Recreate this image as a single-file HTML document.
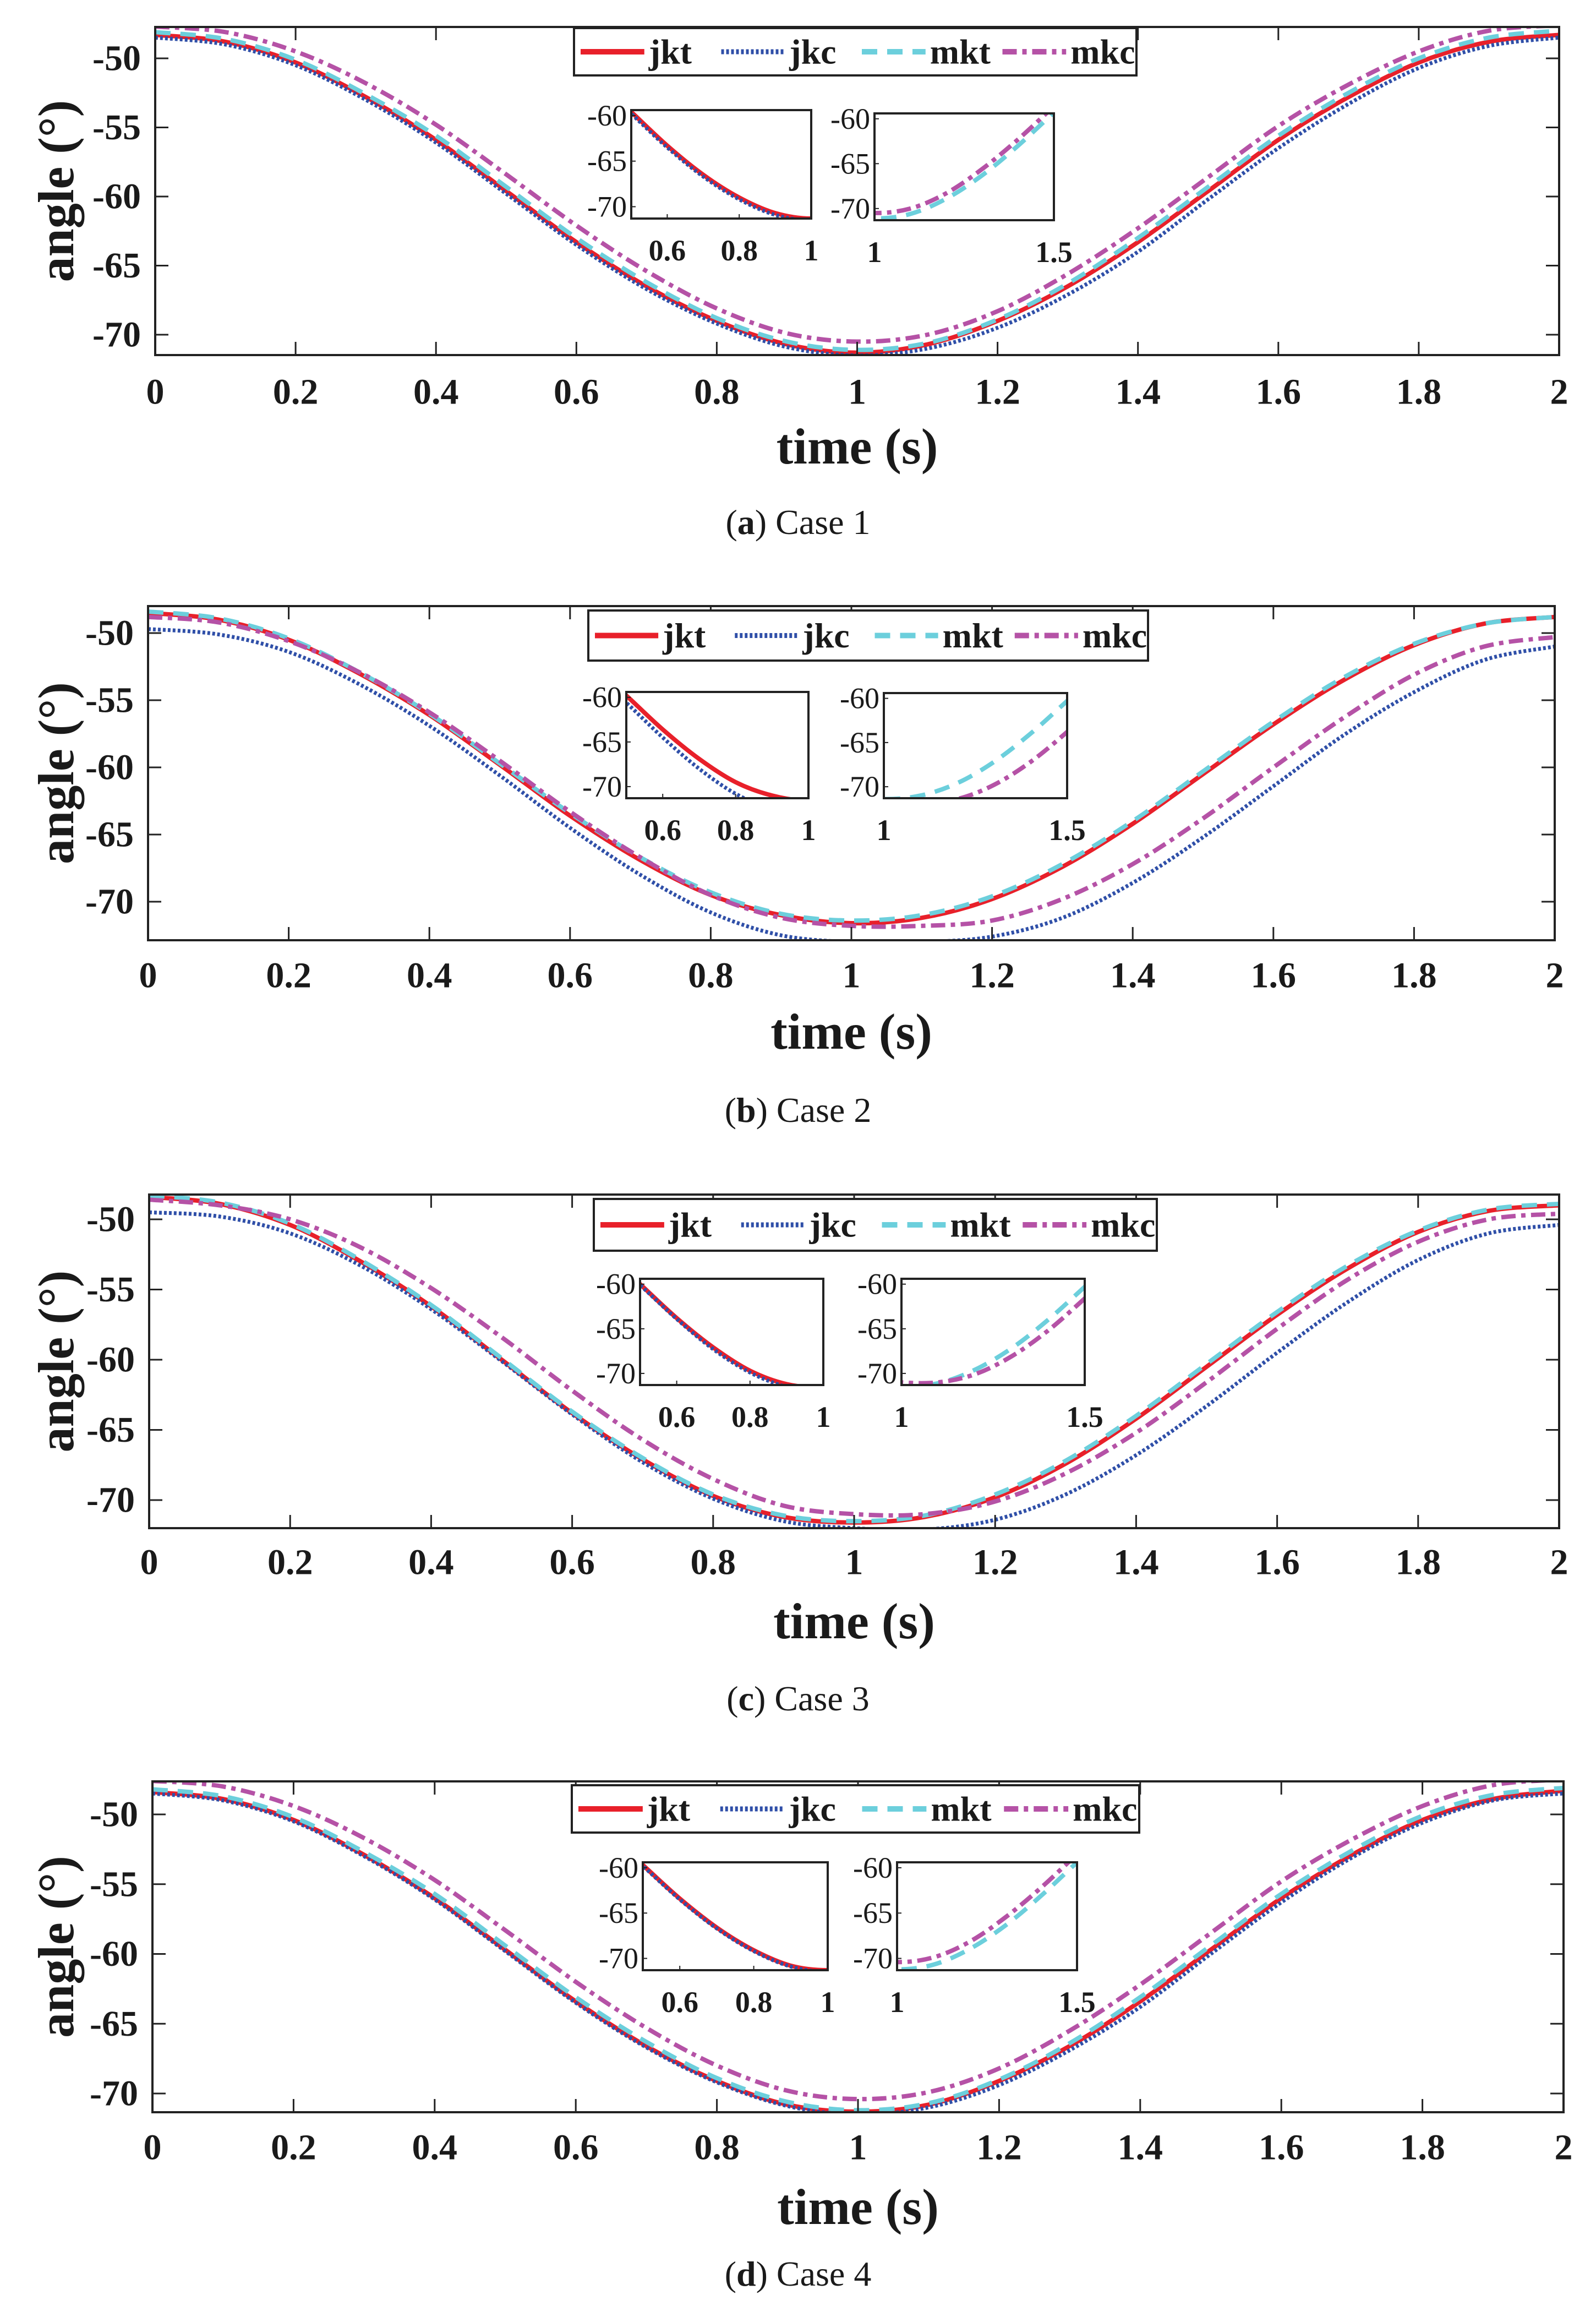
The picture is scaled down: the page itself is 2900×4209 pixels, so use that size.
<!DOCTYPE html>
<html><head><meta charset="utf-8"><style>
html,body{margin:0;padding:0;background:#fff;}
svg{display:block;}
text{font-family:"Liberation Serif",serif;fill:#1a1a1a;}
</style></head><body>
<svg id="fig" width="2900" height="4209" viewBox="0 0 2900 4209" xmlns="http://www.w3.org/2000/svg"></svg>
<script>
// ---- data (time samples every 0.1 s) ----
const times = [0,0.1,0.2,0.3,0.4,0.5,0.6,0.7,0.8,0.9,1.0,1.1,1.2,1.3,1.4,1.5,1.6,1.7,1.8,1.9,2.0];
const yTicks = [-50,-55,-60,-65,-70];
const xTicks = [0,0.2,0.4,0.6,0.8,1,1.2,1.4,1.6,1.8,2];
const xTickLabels = ["0","0.2","0.4","0.6","0.8","1","1.2","1.4","1.6","1.8","2"];
const seriesNames = ["jkt","jkc","mkt","mkc"];
const captions = ["a","b","c","d"];

const case1_jkt = [-48.3,-48.8,-50.3,-52.8,-55.9,-59.6,-63.3,-66.5,-69.0,-70.7,-71.3,-70.7,-69.0,-66.5,-63.3,-59.6,-55.9,-52.8,-50.3,-48.8,-48.3];
const case1_jkc = [-48.5,-49.0,-50.5,-53.0,-56.1,-59.8,-63.5,-66.7,-69.2,-70.9,-71.5,-71.0,-69.5,-67.1,-64.0,-60.2,-56.5,-53.3,-50.7,-49.1,-48.5];
const case1_mkt = [-48.1,-48.6,-50.1,-52.6,-55.6,-59.3,-63.0,-66.2,-68.8,-70.5,-71.1,-70.6,-68.9,-66.3,-63.0,-59.3,-55.6,-52.5,-50.0,-48.5,-48.0];
const case1_mkc = [-47.7,-48.1,-49.5,-51.8,-54.8,-58.4,-62.1,-65.4,-68.1,-69.9,-70.5,-70.0,-68.3,-65.6,-62.3,-58.6,-54.9,-51.9,-49.5,-48.0,-47.6];

const case2_jkt = [-48.5,-49.0,-50.5,-53.0,-56.1,-59.8,-63.6,-66.9,-69.5,-71.0,-71.6,-71.2,-69.8,-67.4,-64.2,-60.5,-56.8,-53.5,-50.9,-49.3,-48.8];
const case2_jkc = [-49.7,-50.1,-51.4,-53.8,-56.9,-60.6,-64.5,-68.0,-70.8,-72.5,-73.0,-73.0,-72.6,-71.2,-68.6,-65.2,-61.4,-57.6,-54.4,-52.0,-51.0];
const case2_mkt = [-48.4,-48.9,-50.4,-52.9,-56.0,-59.7,-63.4,-66.7,-69.3,-70.9,-71.4,-71.0,-69.6,-67.2,-64.0,-60.3,-56.6,-53.3,-50.8,-49.3,-48.8];
const case2_mkc = [-48.8,-49.2,-50.6,-52.9,-55.9,-59.5,-63.3,-66.7,-69.5,-71.2,-71.8,-71.8,-71.4,-69.8,-67.2,-63.8,-60.0,-56.3,-53.1,-51.0,-50.3];

const case3_jkt = [-48.4,-48.9,-50.4,-53.0,-56.2,-60.0,-63.8,-67.1,-69.7,-71.2,-71.6,-71.2,-69.8,-67.4,-64.2,-60.5,-56.8,-53.5,-50.9,-49.4,-49.0];
const case3_jkc = [-49.5,-49.8,-51.0,-53.3,-56.4,-60.1,-63.9,-67.3,-69.9,-71.5,-72.0,-72.1,-71.4,-69.6,-66.8,-63.3,-59.5,-55.9,-52.9,-51.0,-50.4];
const case3_mkt = [-48.3,-48.8,-50.3,-52.9,-56.1,-59.9,-63.7,-67.0,-69.6,-71.1,-71.5,-71.1,-69.6,-67.2,-64.0,-60.3,-56.6,-53.3,-50.8,-49.3,-48.9];
const case3_mkc = [-48.6,-49.0,-50.0,-52.0,-54.9,-58.4,-62.2,-65.7,-68.5,-70.4,-71.0,-71.0,-70.1,-68.1,-65.2,-61.6,-57.8,-54.3,-51.6,-50.0,-49.6];

const case4_jkt = [-48.4,-48.9,-50.4,-52.9,-56.0,-59.7,-63.4,-66.6,-69.1,-70.8,-71.3,-70.8,-69.1,-66.6,-63.4,-59.7,-56.0,-52.9,-50.4,-48.9,-48.3];
const case4_jkc = [-48.5,-49.0,-50.5,-53.0,-56.1,-59.8,-63.5,-66.7,-69.2,-70.9,-71.5,-71.0,-69.4,-66.9,-63.8,-60.0,-56.3,-53.1,-50.6,-49.0,-48.5];
const case4_mkt = [-48.2,-48.7,-50.2,-52.7,-55.7,-59.4,-63.1,-66.3,-68.9,-70.6,-71.2,-70.7,-69.0,-66.4,-63.1,-59.4,-55.7,-52.6,-50.1,-48.6,-48.1];
const case4_mkc = [-47.6,-48.0,-49.4,-51.7,-54.7,-58.3,-62.0,-65.3,-68.0,-69.8,-70.4,-69.9,-68.2,-65.5,-62.2,-58.5,-54.8,-51.8,-49.4,-47.9,-47.5];

const allCases = [
  [case1_jkt,case1_jkc,case1_mkt,case1_mkc],
  [case2_jkt,case2_jkc,case2_mkt,case2_mkc],
  [case3_jkt,case3_jkc,case3_mkt,case3_mkc],
  [case4_jkt,case4_jkc,case4_mkt,case4_mkc]
];

// ---- layout (pixels) ----
const layouts = [
 {L:282,R:2833,T:49,B:645,p50:106,p70:608, leg:[1043,51,2065,137], in1:[1147,200,1474,397], in2:[1589,206,1915,400], xl:712, tl:811, cap:948},
 {L:269,R:2825,T:1101,B:1708,p50:1150,p70:1638, leg:[1069,1109,2086,1200], in1:[1138,1257,1469,1450], in2:[1606,1259,1939,1450], xl:1772, tl:1874, cap:2016},
 {L:271,R:2833,T:2170,B:2776,p50:2215,p70:2725, leg:[1079,2178,2102,2272], in1:[1163,2323,1496,2516], in2:[1638,2323,1971,2516], xl:2838, tl:2945, cap:3085},
 {L:277,R:2841,T:3236,B:3837,p50:3296,p70:3803, leg:[1039,3243,2070,3329], in1:[1168,3383,1504,3579], in2:[1630,3383,1957,3579], xl:3901, tl:4009, cap:4130}
];
const styles = [
 {c:"#e8202a", w:8, d:""},
 {c:"#2f4fa8", w:7, d:"5 4"},
 {c:"#6ccfdc", w:8, d:"28 18"},
 {c:"#b552a6", w:8, d:"26 10 8 10"}
];

const NS="http://www.w3.org/2000/svg";
const svg=document.getElementById('fig');
function mk(tag,attrs,parent){const e=document.createElementNS(NS,tag);for(const k in attrs)e.setAttribute(k,attrs[k]);(parent||svg).appendChild(e);return e;}
function txt(s,attrs,parent){const e=mk('text',attrs,parent);e.textContent=s;return e;}
function smoothPath(pts){
  let d="M"+pts[0][0].toFixed(1)+","+pts[0][1].toFixed(1);
  for(let i=0;i<pts.length-1;i++){
    const p0=pts[Math.max(0,i-1)],p1=pts[i],p2=pts[i+1],p3=pts[Math.min(pts.length-1,i+2)];
    const c1=[p1[0]+(p2[0]-p0[0])/6,p1[1]+(p2[1]-p0[1])/6];
    const c2=[p2[0]-(p3[0]-p1[0])/6,p2[1]-(p3[1]-p1[1])/6];
    d+="C"+c1[0].toFixed(1)+","+c1[1].toFixed(1)+" "+c2[0].toFixed(1)+","+c2[1].toFixed(1)+" "+p2[0].toFixed(1)+","+p2[1].toFixed(1);
  }
  return d;
}

layouts.forEach((Lo,pi)=>{
  const data=allCases[pi];
  const g=mk('g',{});
  
  
  const ppd=(Lo.p70-Lo.p50)/20;
  const ymax=-50+(Lo.p50-Lo.T)/ppd, ymin=-70-(Lo.B-Lo.p70)/ppd;
  const xs=t=>Lo.L+(t/2)*(Lo.R-Lo.L);
  const ys=v=>Lo.T+(ymax-v)/(ymax-ymin)*(Lo.B-Lo.T);
  const cid='clip'+pi;
  const cp=mk('clipPath',{id:cid},g); mk('rect',{x:Lo.L,y:Lo.T,width:Lo.R-Lo.L,height:Lo.B-Lo.T},cp);
  data.forEach((arr,si)=>{
    const pts=arr.map((v,i)=>[xs(times[i]),ys(v)]);
    const p=mk('path',{d:smoothPath(pts),fill:'none',stroke:styles[si].c,'stroke-width':styles[si].w,'stroke-dasharray':styles[si].d,'clip-path':'url(#'+cid+')'},g);
    
    
  });
  const fr=mk('rect',{x:Lo.L,y:Lo.T,width:Lo.R-Lo.L,height:Lo.B-Lo.T,fill:'none',stroke:'#222','stroke-width':4},g);
   
  xTicks.forEach((t,i)=>{
    const x=xs(t);
    mk('line',{x1:x,y1:Lo.B,x2:x,y2:Lo.B-24,stroke:'#222','stroke-width':3},g);
    mk('line',{x1:x,y1:Lo.T,x2:x,y2:Lo.T+24,stroke:'#222','stroke-width':3},g);
    const tl=txt(xTickLabels[i],{x:x,y:Lo.xl,'text-anchor':'middle','dominant-baseline':'central','font-size':66,'font-weight':'bold'},g);
     
  });
  yTicks.forEach(v=>{
    const y=ys(v);
    mk('line',{x1:Lo.L,y1:y,x2:Lo.L+24,y2:y,stroke:'#222','stroke-width':3},g);
    mk('line',{x1:Lo.R,y1:y,x2:Lo.R-24,y2:y,stroke:'#222','stroke-width':3},g);
    const tl=txt(String(v),{x:Lo.L-26,y:y,'text-anchor':'end','dominant-baseline':'central','font-size':66,'font-weight':'bold'},g);
     
  });
  const xt=txt('time (s)',{x:(Lo.L+Lo.R)/2,y:Lo.tl,'text-anchor':'middle','dominant-baseline':'central','font-size':92,'font-weight':'bold'},g);
   
  const cy=(Lo.T+Lo.B)/2;
  const yt=txt('angle (°)',{x:102,y:cy,'text-anchor':'middle','dominant-baseline':'central','font-size':92,'font-weight':'bold',transform:'rotate(-90 102 '+cy+')'},g);
   
  const cap=mk('text',{x:1450,y:Lo.cap,'text-anchor':'middle','dominant-baseline':'central','font-size':64},g);
   
  const t1=mk('tspan',{},cap); t1.textContent='(';
  const t2=mk('tspan',{'font-weight':'bold'},cap); t2.textContent=captions[pi];
  const t3=mk('tspan',{},cap); t3.textContent=') Case '+(pi+1);
  const [lx0,ly0,lx1,ly1]=Lo.leg;
  const lg=mk('g',{},g);  
  mk('rect',{x:lx0,y:ly0,width:lx1-lx0,height:ly1-ly0,fill:'#fff',stroke:'#222','stroke-width':4},lg);
  const lw=(lx1-lx0)/4, lmy=(ly0+ly1)/2;
  seriesNames.forEach((n,si)=>{
    const ex=lx0+si*lw;
    const e=mk('g',{},lg);  
    mk('line',{x1:ex+12,y1:lmy,x2:ex+lw*0.5,y2:lmy,stroke:styles[si].c,'stroke-width':styles[si].w+2,'stroke-dasharray':styles[si].d},e);
    txt(n,{x:ex+lw*0.5+8,y:lmy,'dominant-baseline':'central','font-size':64,'font-weight':'bold'},e);
  });
  [[Lo.in1,0.5,1,[0,1],["0.6","0.8","1"],[0.6,0.8,1]],[Lo.in2,1,1.5,[2,3],["1","1.5"],[1,1.5]]].forEach((spec,ii)=>{
    const [r,x0,x1,sers,labs,labv]=spec;
    const ig=mk('g',{},g);  
    const iy0=-59.4, iy1=-71.3;
    const ixs=t=>r[0]+(t-x0)/(x1-x0)*(r[2]-r[0]);
    const iys=v=>r[1]+(iy0-v)/(iy0-iy1)*(r[3]-r[1]);
    const icid='iclip'+pi+'_'+ii;
    const icp=mk('clipPath',{id:icid},ig); mk('rect',{x:r[0],y:r[1],width:r[2]-r[0],height:r[3]-r[1]},icp);
    mk('rect',{x:r[0],y:r[1],width:r[2]-r[0],height:r[3]-r[1],fill:'#fff'},ig);
    sers.forEach(si=>{
      const pts=data[si].map((v,i)=>[ixs(times[i]),iys(v)]);
      const p=mk('path',{d:smoothPath(pts),fill:'none',stroke:styles[si].c,'stroke-width':styles[si].w,'stroke-dasharray':styles[si].d,'clip-path':'url(#'+icid+')'},ig);
      
      
    });
    mk('rect',{x:r[0],y:r[1],width:r[2]-r[0],height:r[3]-r[1],fill:'none',stroke:'#222','stroke-width':4},ig);
    [-60,-65,-70].forEach(v=>{
      const y=iys(v);
      mk('line',{x1:r[0],y1:y,x2:r[0]+8,y2:y,stroke:'#222','stroke-width':2},ig);
      txt(String(v),{x:r[0]-8,y:y,'text-anchor':'end','dominant-baseline':'central','font-size':54},ig);
    });
    labv.forEach((t,k)=>{
      const x=ixs(t);
      mk('line',{x1:x,y1:r[3],x2:x,y2:r[3]-8,stroke:'#222','stroke-width':2},ig);
      txt(labs[k],{x:x,y:r[3]+58,'text-anchor':'middle','dominant-baseline':'central','font-size':54,'font-weight':'bold'},ig);
    });
  });
});
</script>
</body></html>
